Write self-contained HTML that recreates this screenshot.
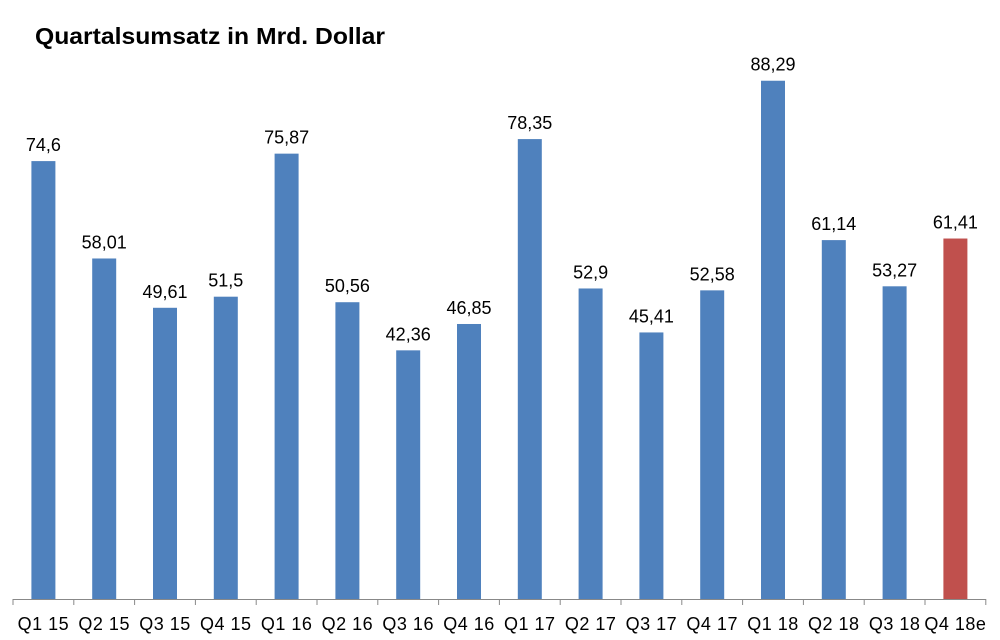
<!DOCTYPE html>
<html><head><meta charset="utf-8"><style>
body{margin:0;background:#fff;}
svg{display:block;font-family:"Liberation Sans",sans-serif;}
</style></head><body>
<svg id="chart" width="1000" height="640">
<text x="35" y="44" font-size="23" font-weight="bold" fill="#000" textLength="350" lengthAdjust="spacingAndGlyphs">Quartalsumsatz in Mrd. Dollar</text>
<g id="bars"></g>
<g id="labels"></g>
<g id="axis"></g>
</svg>
<script>
const categories=["Q1 15","Q2 15","Q3 15","Q4 15","Q1 16","Q2 16","Q3 16","Q4 16","Q1 17","Q2 17","Q3 17","Q4 17","Q1 18","Q2 18","Q3 18","Q4 18e"];
const values=[74.6,58.01,49.61,51.5,75.87,50.56,42.36,46.85,78.35,52.9,45.41,52.58,88.29,61.14,53.27,61.41];
const valueLabels=["74,6","58,01","49,61","51,5","75,87","50,56","42,36","46,85","78,35","52,9","45,41","52,58","88,29","61,14","53,27","61,41"];
const estimated=[false,false,false,false,false,false,false,false,false,false,false,false,false,false,false,true];
const NS="http://www.w3.org/2000/svg";
const x0=13,step=60.8,base=599,scale=5.87,bw=24;
const xc=i=>x0+step*(i+0.5);
const y=v=>base-v*scale;
const bars=document.getElementById('bars'),labels=document.getElementById('labels'),axis=document.getElementById('axis');
function mk(t,a){const e=document.createElementNS(NS,t);for(const k in a)e.setAttribute(k,a[k]);return e;}
categories.forEach((c,i)=>{
  const r=mk('rect',{x:xc(i)-bw/2,y:y(values[i]),width:bw,height:base-y(values[i]),fill:estimated[i]?'#c0504d':'#4f81bd'});
  
  
  bars.appendChild(r);
  const t=mk('text',{x:xc(i),y:y(values[i])-10,'text-anchor':'middle','font-size':18,fill:'#000'});
  t.textContent=valueLabels[i];
  
  
  labels.appendChild(t);
  const l=mk('text',{x:xc(i),y:630,'text-anchor':'middle','font-size':18,fill:'#000','letter-spacing':'0.5'});
  l.textContent=c;
  
  
  axis.appendChild(l);
});
const line=mk('line',{x1:x0,x2:x0+step*categories.length,y1:base+0.5,y2:base+0.5,stroke:'#888','stroke-width':1});


axis.appendChild(line);
for(let i=0;i<=categories.length;i++){
  const tk=mk('line',{x1:x0+step*i,x2:x0+step*i,y1:base,y2:base+6,stroke:'#888','stroke-width':1});
  
  
  axis.appendChild(tk);
}
</script>
</body></html>
